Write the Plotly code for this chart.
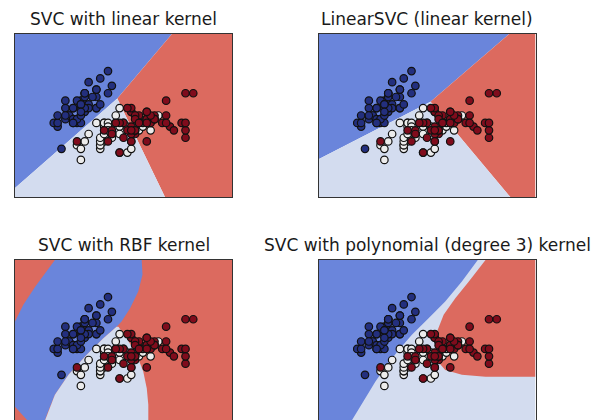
import plotly.graph_objects as go

# ---------------- data: iris sepal length / sepal width ----------------
setosa_x = [5.1, 4.9, 4.7, 4.6, 5.0, 5.4, 4.6, 5.0, 4.4, 4.9, 5.4, 4.8, 4.8, 4.3, 5.8, 5.7, 5.4, 5.1, 5.7, 5.1,
            5.4, 5.1, 4.6, 5.1, 4.8, 5.0, 5.0, 5.2, 5.2, 4.7, 4.8, 5.4, 5.2, 5.5, 4.9, 5.0, 5.5, 4.9, 4.4, 5.1,
            5.0, 4.5, 4.4, 5.0, 5.1, 4.8, 5.1, 4.6, 5.3, 5.0]
setosa_y = [3.5, 3.0, 3.2, 3.1, 3.6, 3.9, 3.4, 3.4, 2.9, 3.1, 3.7, 3.4, 3.0, 3.0, 4.0, 4.4, 3.9, 3.5, 3.8, 3.8,
            3.4, 3.7, 3.6, 3.3, 3.4, 3.0, 3.4, 3.5, 3.4, 3.2, 3.1, 3.4, 4.1, 4.2, 3.1, 3.2, 3.5, 3.6, 3.0, 3.4,
            3.5, 2.3, 3.2, 3.5, 3.8, 3.0, 3.8, 3.2, 3.7, 3.3]
versicolor_x = [7.0, 6.4, 6.9, 5.5, 6.5, 5.7, 6.3, 4.9, 6.6, 5.2, 5.0, 5.9, 6.0, 6.1, 5.6, 6.7, 5.6, 5.8, 6.2, 5.6,
                5.9, 6.1, 6.3, 6.1, 6.4, 6.6, 6.8, 6.7, 6.0, 5.7, 5.5, 5.5, 5.8, 6.0, 5.4, 6.0, 6.7, 6.3, 5.6, 5.5,
                5.5, 6.1, 5.8, 5.0, 5.6, 5.7, 5.7, 6.2, 5.1, 5.7]
versicolor_y = [3.2, 3.2, 3.1, 2.3, 2.8, 2.8, 3.3, 2.4, 2.9, 2.7, 2.0, 3.0, 2.2, 2.9, 2.9, 3.1, 3.0, 2.7, 2.2, 2.5,
                3.2, 2.8, 2.5, 2.8, 2.9, 3.0, 2.8, 3.0, 2.9, 2.6, 2.4, 2.4, 2.7, 2.7, 3.0, 3.4, 3.1, 2.3, 3.0, 2.5,
                2.6, 3.0, 2.6, 2.3, 2.7, 3.0, 2.9, 2.9, 2.5, 2.8]
virginica_x = [6.3, 5.8, 7.1, 6.3, 6.5, 7.6, 4.9, 7.3, 6.7, 7.2, 6.5, 6.4, 6.8, 5.7, 5.8, 6.4, 6.5, 7.7, 7.7, 6.0,
               6.9, 5.6, 7.7, 6.3, 6.7, 7.2, 6.2, 6.1, 6.4, 7.2, 7.4, 7.9, 6.4, 6.3, 6.1, 7.7, 6.3, 6.4, 6.0, 6.9,
               6.7, 6.9, 5.8, 6.8, 6.7, 6.7, 6.3, 6.5, 6.2, 5.9]
virginica_y = [3.3, 2.7, 3.0, 2.9, 3.0, 3.0, 2.5, 2.9, 2.5, 3.6, 3.2, 2.7, 3.0, 2.5, 2.8, 3.2, 3.0, 3.8, 2.6, 2.2,
               3.2, 2.8, 2.8, 2.7, 3.3, 3.2, 2.8, 3.0, 2.8, 3.0, 2.8, 3.8, 2.8, 2.8, 2.6, 3.0, 3.4, 3.1, 3.0, 3.1,
               3.1, 3.1, 2.7, 3.2, 3.3, 3.0, 2.5, 3.0, 3.4, 3.0]

titles = ["SVC with linear kernel", "LinearSVC (linear kernel)",
          "SVC with RBF kernel", "SVC with polynomial (degree 3) kernel"]

x_range = [3.3, 8.9]
y_range_top = [1.0, 5.4]
y_range_bottom = [1.08, 5.4]

# ---------------- decision regions (data coordinates) ----------------
# SVC linear
lin_blue_x = [3.3, 7.35, 5.94, 3.3]
lin_blue_y = [5.4, 5.4, 3.66, 1.24]
lin_red_x = [7.35, 8.9, 8.9, 7.17, 5.94]
lin_red_y = [5.4, 5.4, 1.0, 1.0, 3.66]
lin_light_x = [3.3, 5.94, 7.17, 3.3]
lin_light_y = [1.24, 3.66, 1.0, 1.0]

# LinearSVC
lsvc_blue_x = [3.3, 8.22, 6.19, 3.3]
lsvc_blue_y = [5.4, 5.4, 3.57, 2.02]
lsvc_red_x = [8.22, 8.9, 8.9, 8.25, 6.19]
lsvc_red_y = [5.4, 5.4, 1.0, 1.0, 3.57]
lsvc_light_x = [3.3, 6.19, 8.25, 3.3]
lsvc_light_y = [2.02, 3.57, 1.0, 1.0]

# RBF
rbf_red_x = [3.3, 8.9, 8.9, 3.3]
rbf_red_y = [5.4, 5.4, 1.0, 1.0]
rbf_blue_x = [3.3, 3.515, 3.82, 4.33, 6.57, 6.59, 6.48, 6.27, 6.05, 5.92, 5.58, 5.15, 4.68, 4.33, 4.12, 4.05,
              3.68, 3.3]
rbf_blue_y = [3.74, 4.19, 4.68, 5.4, 5.4, 5.0, 4.55, 4.10, 3.74, 3.60, 3.29, 2.84, 2.30, 1.76, 1.22, 1.0,
              1.0, 1.44]
rbf_light_x = [5.92, 5.58, 5.15, 4.68, 4.33, 4.12, 4.05, 6.74, 6.74, 6.70, 6.61, 6.44, 6.18, 5.97]
rbf_light_y = [3.60, 3.29, 2.84, 2.30, 1.76, 1.22, 1.0, 1.0, 1.49, 1.94, 2.39, 2.84, 3.29, 3.60]

# Polynomial
poly_light_x = [3.3, 8.9, 8.9, 3.3]
poly_light_y = [5.4, 5.4, 1.0, 1.0]
poly_blue_x = [3.3, 7.41, 7.00, 6.57, 6.14, 5.71, 5.37, 5.07, 4.77, 4.51, 4.29, 4.16, 4.12, 3.3]
poly_blue_y = [5.4, 5.4, 4.82, 4.28, 3.83, 3.38, 2.97, 2.57, 2.12, 1.67, 1.31, 1.08, 1.0, 1.0]
poly_red_x = [7.61, 8.9, 8.9, 7.61, 7.00, 6.57, 6.38, 6.31, 6.36, 6.53, 6.83, 7.18]
poly_red_y = [5.4, 5.4, 2.25, 2.25, 2.30, 2.43, 2.66, 3.02, 3.47, 3.92, 4.37, 4.82]

BLUE_BG = "#6a85db"
LIGHT_BG = "#d3dcef"
RED_BG = "#dc6a5f"

regions = [
    [(lin_blue_x, lin_blue_y, BLUE_BG), (lin_red_x, lin_red_y, RED_BG), (lin_light_x, lin_light_y, LIGHT_BG)],
    [(lsvc_blue_x, lsvc_blue_y, BLUE_BG), (lsvc_red_x, lsvc_red_y, RED_BG), (lsvc_light_x, lsvc_light_y, LIGHT_BG)],
    [(rbf_red_x, rbf_red_y, RED_BG), (rbf_blue_x, rbf_blue_y, BLUE_BG), (rbf_light_x, rbf_light_y, LIGHT_BG)],
    [(poly_light_x, poly_light_y, LIGHT_BG), (poly_blue_x, poly_blue_y, BLUE_BG), (poly_red_x, poly_red_y, RED_BG)],
]

classes = [(setosa_x, setosa_y, "#232f7e"), (versicolor_x, versicolor_y, "#ececec"),
           (virginica_x, virginica_y, "#800c1c")]

W, H = 604, 420
x_domains = [[15 / W, 232 / W], [318.5 / W, 535.5 / W]]
y_domains = [[1 - 197 / H, 1 - 34 / H], [0.0, 1 - 260 / H]]

fig = go.Figure()
for i in range(4):
    row, col = divmod(i, 2)
    suffix = "" if i == 0 else str(i + 1)
    xa, ya = "x" + suffix, "y" + suffix
    for px, py, c in regions[i]:
        fig.add_trace(go.Scatter(x=px, y=py, mode="lines", fill="toself", fillcolor=c,
                                 line=dict(width=0, color=c), hoverinfo="skip", showlegend=False,
                                 xaxis=xa, yaxis=ya))
    for cx, cy, c in classes:
        fig.add_trace(go.Scatter(x=cx, y=cy, mode="markers", showlegend=False,
                                 marker=dict(size=7.5, color=c, line=dict(width=1.2, color="#111111")),
                                 xaxis=xa, yaxis=ya))
    common = dict(showgrid=False, zeroline=False, showticklabels=False, ticks="",
                  showline=True, linecolor="#333333", linewidth=1)
    if row == 0:
        xax = dict(domain=x_domains[col], range=x_range, mirror=True, anchor=ya, **common)
    else:
        xax = dict(domain=x_domains[col], range=x_range, mirror=False, side="top", anchor=ya, **common)
    yax = dict(domain=y_domains[row], range=y_range_top if row == 0 else y_range_bottom,
               mirror=True, anchor=xa, **common)
    fig.layout["xaxis" + suffix] = xax
    fig.layout["yaxis" + suffix] = yax
    fig.add_annotation(text=titles[i], xref="paper", yref="paper",
                       x=sum(x_domains[col]) / 2, y=y_domains[row][1] + 3 / H,
                       xanchor="center", yanchor="bottom", showarrow=False,
                       font=dict(family="DejaVu Sans", size=17, color="#1a1a1a"))

fig.update_layout(width=W, height=H, margin=dict(l=0, r=0, t=0, b=0),
                  paper_bgcolor="white", plot_bgcolor="white")
fig.write_html("out.html", config={"displayModeBar": False},
               post_script="document.body.style.margin='0px';")
